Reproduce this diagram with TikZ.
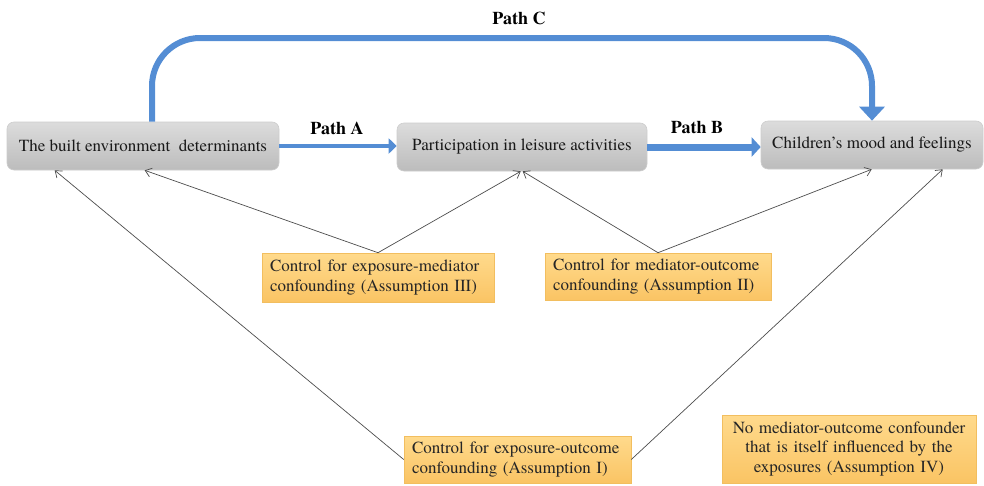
\documentclass[tikz,border=0pt]{standalone}
\usepackage{fontspec}
\setmainfont{texgyretermes}[Extension=.otf, UprightFont=*-regular, BoldFont=*-bold, ItalicFont=*-italic, BoldItalicFont=*-bolditalic]
\newfontfamily\tmsfont{texgyretermes}[Extension=.otf, UprightFont=*-regular, BoldFont=*-bold, ItalicFont=*-italic, BoldItalicFont=*-bolditalic]
\usetikzlibrary{arrows.meta,calc}
\definecolor{pblue}{RGB}{84,141,212}
\definecolor{ytop}{RGB}{255,218,140}
\definecolor{ybot}{RGB}{250,196,100}
\definecolor{yedge}{RGB}{242,190,95}
\definecolor{gtop}{RGB}{220,220,220}
\definecolor{gbot}{RGB}{188,188,188}
\definecolor{gedge}{RGB}{205,205,205}
\tikzset{
  greybox/.style={draw=gedge, line width=0.6pt, rounded corners=7pt, top color=gtop, bottom color=gbot,
    minimum height=48pt, inner sep=0pt, font=\tmsfont\fontsize{17pt}{19pt}\selectfont, text=black!90},
  yelbox/.style={draw=yedge, line width=0.6pt, top color=ytop, bottom color=ybot,
    inner xsep=8pt, inner ysep=0pt, font=\tmsfont\fontsize{17pt}{19.5pt}\selectfont, text=black!85},
  pathlabel/.style={font=\tmsfont\bfseries\fontsize{18pt}{20pt}\selectfont, inner sep=0pt},
  bluearrow/.style={draw=pblue, line width=#1},
  thinarrow/.style={draw=black!70, line width=0.7pt, -{Straight Barb[length=6pt,width=9pt]}}
}
\begin{document}
\begin{tikzpicture}[x=1pt,y=-1pt]
\useasboundingbox (0,0) rectangle (984,485);
% main boxes
\node[greybox, minimum width=272pt] (b1) at (143,146) {The built environment\ \ determinants};
\node[greybox, minimum width=250pt] (b2) at (522,147) {Participation\ in leisure activities};
\node[greybox, minimum width=222pt] (b3) at (872,145) {Children’s mood and feelings};
% assumption boxes
\node[yelbox, text width=216pt, minimum height=49pt, align=left] (y3) at (378,277.5) {Control for exposure-mediator\\confounding (Assumption III)};
\node[yelbox, text width=210pt, minimum height=47pt, align=left] (y2) at (658,276.5) {Control for mediator-outcome\\confounding (Assumption II)};
\node[yelbox, text width=211pt, minimum height=47pt, align=left] (y1) at (517.5,459.5) {Control for exposure-outcome\\confounding (Assumption I)};
\node[yelbox, text width=238pt, minimum height=68pt, align=center] (y4) at (849,449) {No mediator-outcome confounder\\that is itself influenced by the\\exposures (Assumption IV)};
% path labels
\node[pathlabel] (pa) at (337,128) {Path A};
\node[pathlabel] (pb) at (697,128) {Path B};
\node[pathlabel] (pc) at (519,18) {Path C};
% blue paths
\draw[bluearrow=4.5pt, -{Triangle[length=8pt,width=15pt]}] (b1.east) -- (b1.east -| b2.west);
\draw[bluearrow=7pt, -{Triangle[length=9pt,width=19pt]}] (b2.east) -- (b2.east -| b3.west);
\coordinate (cs) at ($(b1.north)+(9,0)$);
\coordinate (ctop) at (500,38);
\draw[bluearrow=6pt, rounded corners=48pt, -{Triangle[length=14pt,width=25pt]}]
  (cs) -- (cs |- ctop) -- (b3.north |- ctop) -- (b3.north);
% target points
\coordinate (t1a) at ($(b1.south west)+(48,0)$);
\coordinate (t1b) at ($(b1.south west)+(138,0)$);
\coordinate (t2a) at ($(b2.south west)+(124,0)$);
\coordinate (t2b) at ($(b2.south west)+(126,0)$);
\coordinate (t3a) at ($(b3.south west)+(111,0)$);
\coordinate (t3b) at ($(b3.south west)+(182,0)$);
% thin arrows
\draw[thinarrow] (y3.north) -- (t1b);
\draw[thinarrow] (y3.north) -- (t2a);
\draw[thinarrow] (y2.north) -- (t2b);
\draw[thinarrow] (y2.north) -- (t3a);
\draw[thinarrow] (y1.west) -- (t1a);
\draw[thinarrow] (y1.east) -- (t3b);
\end{tikzpicture}
\end{document}
